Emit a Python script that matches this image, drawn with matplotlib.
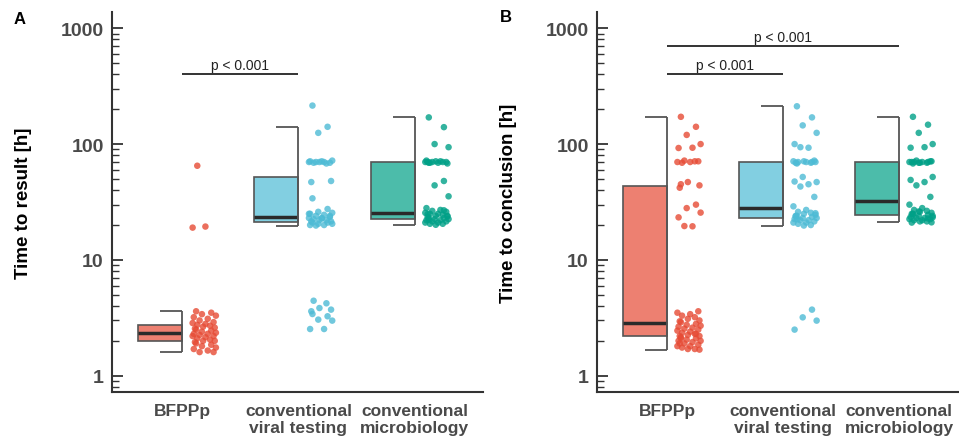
import matplotlib
matplotlib.use("Agg")
import matplotlib.pyplot as plt
from matplotlib.ticker import LogLocator, FuncFormatter, NullFormatter
import numpy as np

plt.rcParams['font.family'] = ['Liberation Sans', 'DejaVu Sans']

# ---------------- data ----------------
categories = ["BFPPp", "conventional\nviral testing", "conventional\nmicrobiology"]
colors = ["#E64B35", "#4DBBD5", "#00A087"]

# panel A: time to result [h]
A_bfppp = [3.6, 3.5, 3.4, 3.3, 3.2, 3.1, 3.0, 2.9, 2.85, 2.8, 2.75, 2.7, 2.65, 2.6,
           2.55, 2.5, 2.45, 2.4, 2.35, 2.3, 2.3, 2.25, 2.2, 2.2, 2.15, 2.1, 2.05,
           2.0, 2.0, 1.95, 1.9, 1.85, 1.8, 1.75, 1.7, 1.65, 1.6, 1.6, 19.0, 19.4, 65]
A_viral = [215, 141, 125, 72, 71, 70, 70, 69, 70, 71, 69, 68, 70, 48, 47, 34, 27.5,
           26, 25.5, 25, 24.5, 24, 23.5, 23, 23, 22.5, 22, 22, 21.5, 21.5, 21, 21,
           20.5, 20.5, 20, 20, 19.8, 24, 25, 22.8,
           4.44, 4.22, 3.84, 3.72, 3.60, 3.41, 3.26, 3.05, 2.99, 2.53, 2.53]
A_micro = [170, 140, 100, 94, 72, 71, 70, 70, 70, 69, 69, 70, 71, 68, 70, 69,
           48, 44, 35.4, 28, 27, 26.5, 26, 25.5, 25, 25, 24.5, 24, 24, 23.5, 23,
           23, 22.5, 22.5, 22, 22, 21.5, 21.5, 21, 21, 20.5, 20.5, 20.1, 23.8,
           24.8, 22.2, 26.8]

# panel B: time to conclusion [h]
B_bfppp = [172, 141, 120, 100, 92.5, 93, 72, 71, 70, 70, 69, 71, 47, 44, 42, 45,
           30, 28, 25.6, 23.3, 19.5, 19.6,
           3.6, 3.5, 3.4, 3.3, 3.2, 3.1, 3.0, 2.95, 2.9, 2.8, 2.75, 2.7, 2.65, 2.6,
           2.55, 2.5, 2.45, 2.4, 2.35, 2.3, 2.25, 2.2, 2.2, 2.15, 2.1, 2.05, 2.0,
           2.0, 1.95, 1.9, 1.85, 1.8, 1.8, 1.75, 1.7, 1.7, 1.68, 1.9, 2.1, 2.3]
B_viral = [212, 170, 145, 125, 100, 93, 94, 72, 71, 70, 70, 69, 71, 70, 69, 68, 70,
           52, 47, 47.5, 45, 43, 35, 29,
           27, 26, 25.5, 25, 24.5, 24, 24, 23.5, 23, 23, 22.5, 22, 22, 21.5, 21,
           21, 20.5, 20, 19.8, 25.3, 23.8, 22.4,
           3.72, 3.19, 2.99, 2.5]
B_micro = [172, 147, 125, 100, 93, 94, 72, 71, 70, 70, 70, 69, 69, 71, 70, 68, 70, 69,
           52, 49, 47, 44, 35, 30,
           28, 27, 26.5, 26, 25.5, 25, 25, 24.5, 24, 24, 23.5, 23, 23, 22.5, 22.5,
           22, 22, 21.5, 21.5, 21.1, 21, 24.8, 22.8, 26.2, 23.3]

# box statistics: (whisker low, Q1, median, Q3, whisker high)
A_box = [(1.60, 2.00, 2.34, 2.74, 3.62),
         (19.7, 21.1, 23.3, 51.7, 141),
         (20.1, 22.6, 25.4, 69.6, 170)]
B_box = [(1.68, 2.19, 2.83, 43.7, 172),
         (19.8, 23.0, 28.1, 70.5, 212),
         (21.1, 24.4, 32.5, 70.5, 172)]

# significance brackets: (from category, to category, height, label)
A_sig = [(0, 1, 403, "p < 0.001")]
B_sig = [(0, 1, 403, "p < 0.001"), (0, 2, 703, "p < 0.001")]

jitter = [0.12, 0.25, 0.17, 0.29, 0.10, 0.22, 0.15, 0.27, 0.09, 0.20, 0.13, 0.24, 0.18, 0.28, 0.11]

# ---------------- figure ----------------
W, H = 959, 439
fig = plt.figure(figsize=(W / 100, H / 100), dpi=100)
bottom = (H - 393.3) / H
height = (393.3 - 12.7) / H
axA = fig.add_axes([112 / W, bottom, 371 / W, height])
axB = fig.add_axes([597 / W, bottom, 362 / W, height])

BOXW = 0.38
tick_gray = "#4a4a4a"
line_gray = "#555555"


def draw(ax, groups, boxes, sigs, ylabel, xmax):
    ax.set_yscale("log")
    ax.set_ylim(0.719, 1390)
    ax.set_xlim(-0.603, xmax)
    for i, (vals, st, col) in enumerate(zip(groups, boxes, colors)):
        lo, q1, med, q3, hi = st
        ax.bar(i - BOXW / 2, q3 - q1, bottom=q1, width=BOXW, color=col, alpha=0.7,
               edgecolor="none", zorder=2)
        ax.bar(i - BOXW / 2, q3 - q1, bottom=q1, width=BOXW, color="none",
               edgecolor=line_gray, linewidth=1.2, zorder=3)
        ax.hlines(med, i - BOXW, i, color="#2a2a2a", linewidth=2.5, zorder=4)
        ax.vlines(i, lo, hi, color=line_gray, linewidth=1.3, zorder=4)
        ax.hlines([lo, hi], i - BOXW / 2, i, color=line_gray, linewidth=1.3, zorder=4)
        xs = [i + jitter[k % len(jitter)] for k in range(len(vals))]
        ax.scatter(xs, vals, s=22, color=col, alpha=0.8, edgecolors="none", zorder=5)
    for a, b, y, lab in sigs:
        ax.hlines(y, a, b, color="#333333", linewidth=1.4)
        ax.annotate(lab, xy=((a + b) / 2, y), xytext=(0, 1.5), textcoords="offset points",
                    ha="center", va="bottom", fontsize=10, color="#222222")
    ax.spines["top"].set_visible(False)
    ax.spines["right"].set_visible(False)
    for s in ("left", "bottom"):
        ax.spines[s].set_linewidth(1.5)
        ax.spines[s].set_color("#333333")
    ax.yaxis.set_major_locator(LogLocator(base=10, numticks=10))
    ax.yaxis.set_minor_locator(LogLocator(base=10, subs=np.arange(2, 10), numticks=20))
    ax.yaxis.set_major_formatter(FuncFormatter(lambda v, _: f"{v:g}"))
    ax.yaxis.set_minor_formatter(NullFormatter())
    ax.tick_params(axis="y", which="major", direction="in", length=8, width=1.3,
                   color="#333333", labelsize=14, labelcolor=tick_gray, pad=6)
    ax.tick_params(axis="y", which="minor", direction="in", length=5, width=1.0,
                   color="#333333")
    for t in ax.get_yticklabels():
        t.set_fontweight("bold")
    ax.set_xticks(range(len(categories)))
    ax.set_xticklabels(categories, fontsize=12.5, fontweight="bold", color=tick_gray,
                       linespacing=1.15)
    ax.tick_params(axis="x", length=0, pad=8)
    ax.set_ylabel(ylabel, fontsize=13.5, fontweight="bold", color="black")


draw(axA, [A_bfppp, A_viral, A_micro], A_box, A_sig, "Time to result [h]", 2.586)
draw(axB, [B_bfppp, B_viral, B_micro], B_box, B_sig, "Time to conclusion [h]", 2.517)
axA.yaxis.set_label_coords(-0.216, 0.5)
axB.yaxis.set_label_coords(-0.221, 0.5)

fig.text(20 / W, 1 - 20 / H, "A", ha="center", va="center", fontsize=12, fontweight="bold")
fig.text(506 / W, 1 - 18 / H, "B", ha="center", va="center", fontsize=12, fontweight="bold")

fig.savefig("out.png", dpi=100)
